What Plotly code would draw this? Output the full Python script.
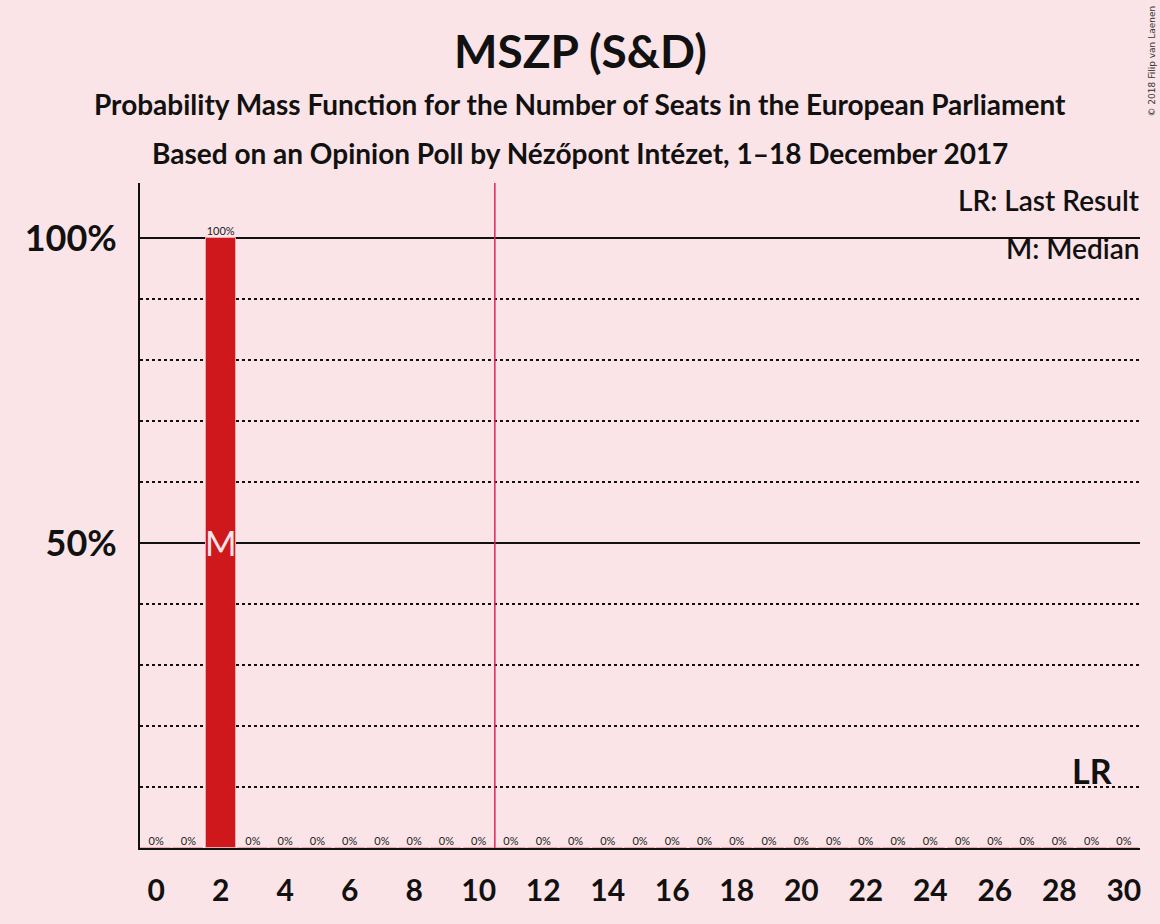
import plotly.graph_objects as go

# Seats and probability (%)
seats = list(range(0, 31))
probability = [0, 0, 100] + [0] * 28
bar_labels = [f"{p:.0f}%" for p in probability]

median_seat = 2
last_result_seat = 29
threshold_x = 10.5

x_ticks = list(range(0, 31, 2))
y_ticks = [50, 100]
y_tick_labels = ["50%", "100%"]

bg = "#FBE4E7"
bar_color = "#CF181C"
font_family = "Lato, 'Open Sans', sans-serif"

# plot area in pixels (used to place annotations in paper coords)
L, R, T, B = 140, 1140, 183, 848


def px_x(px):
    return (px - L) / (R - L)


def px_y(py):
    return (B - py) / (B - T)


fig = go.Figure()

# Probability bars
fig.add_trace(go.Bar(
    x=seats,
    y=probability,
    width=0.93,
    marker_color=bar_color,
    marker_line=dict(color="#F2A5AD", width=1),
    hoverinfo="skip",
))

# Value labels above each bar
fig.add_trace(go.Scatter(
    x=seats,
    y=probability,
    mode="text",
    text=bar_labels,
    textposition="top center",
    textfont=dict(family=font_family, size=11, color="#222222"),
    hoverinfo="skip",
))

fig.update_layout(
    width=1160,
    height=924,
    paper_bgcolor=bg,
    plot_bgcolor=bg,
    showlegend=False,
    margin=dict(l=L, r=1160 - R, t=T, b=924 - B),
    font=dict(family=font_family, color="#111111"),
    xaxis=dict(
        range=[-0.5, 30.5],
        tickvals=x_ticks,
        ticks="",
        showgrid=False,
        zeroline=False,
        showline=True,
        linecolor="#111111",
        linewidth=2,
        tickfont=dict(size=30, family=font_family, weight="bold"),
        ticklabelstandoff=15,
    ),
    yaxis=dict(
        range=[0, 109],
        tickvals=y_ticks,
        ticktext=y_tick_labels,
        ticks="",
        showgrid=True,
        gridcolor="#111111",
        gridwidth=1.5,
        zeroline=False,
        showline=True,
        linecolor="#111111",
        linewidth=2,
        tickfont=dict(size=36, family=font_family, weight="bold"),
        ticklabelstandoff=14,
        minor=dict(
            dtick=10,
            showgrid=True,
            gridcolor="#111111",
            griddash="dot",
            gridwidth=1.5,
        ),
    ),
    bargap=0,
)

# Vertical threshold line
fig.add_shape(
    type="line", x0=threshold_x, x1=threshold_x, y0=0, y1=1,
    xref="x", yref="y domain",
    line=dict(color="#E0245A", width=1.5),
)

# Titles
titles = [
    ("MSZP (S&D)", 50, 46),
    ("Probability Mass Function for the Number of Seats in the European Parliament", 104, 28),
    ("Based on an Opinion Poll by Nézőpont Intézet, 1–18 December 2017", 153, 28),
]
for text, py, size in titles:
    fig.add_annotation(
        text=text, x=px_x(580), y=px_y(py), xref="paper", yref="paper",
        xanchor="center", yanchor="middle", showarrow=False,
        font=dict(size=size, family=font_family, weight="bold"),
    )

# Legend texts
for text, py in [("LR: Last Result", 200), ("M: Median", 248)]:
    fig.add_annotation(
        text=text, x=1, y=px_y(py), xref="paper", yref="paper",
        xanchor="right", yanchor="middle", xshift=2, showarrow=False,
        font=dict(size=28, family=font_family, weight=600),
    )

# Median marker
fig.add_annotation(
    text="M", x=median_seat, y=50, xref="x", yref="y",
    showarrow=False, font=dict(size=34, family=font_family, color="#FBE4E7"),
)

# Last result marker
fig.add_annotation(
    text="LR", x=last_result_seat, y=10, xref="x", yref="y",
    yanchor="bottom", yshift=-6, showarrow=False,
    font=dict(size=34, family=font_family, weight="bold"),
)

# Copyright
fig.add_annotation(
    text="© 2018 Filip van Laenen", x=px_x(1152), y=px_y(4),
    xref="paper", yref="paper", xanchor="center", yanchor="top",
    textangle=-90, showarrow=False,
    font=dict(size=9, family="'DejaVu Sans', sans-serif", color="#333333"),
)

fig.write_html(
    "out.html",
    config={"displayModeBar": False},
    post_script="document.body.style.margin='0';",
)
